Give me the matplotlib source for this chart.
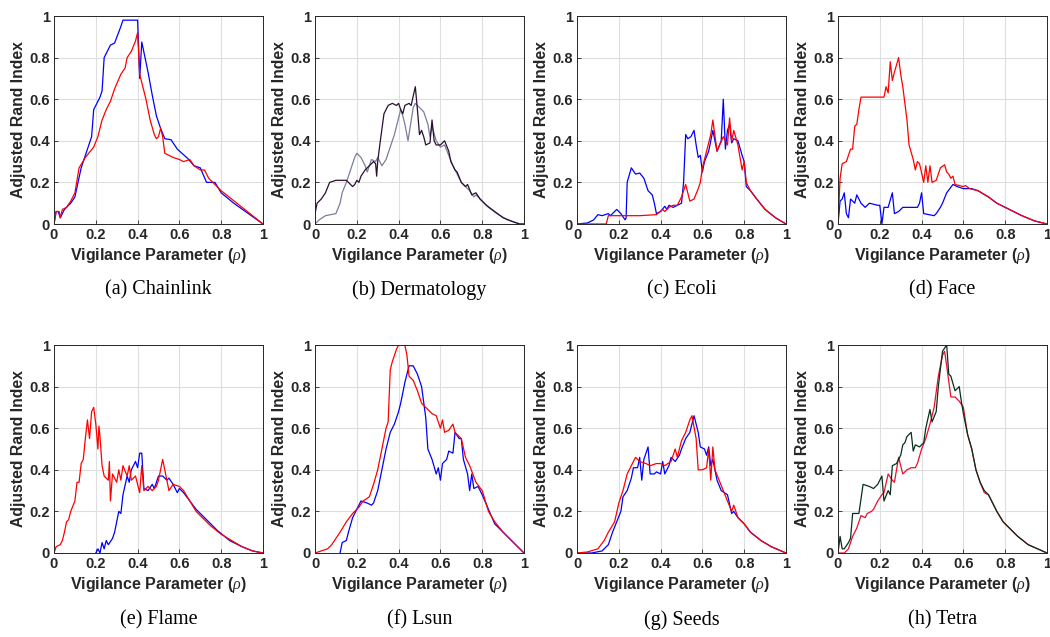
import numpy as np
import matplotlib.pyplot as plt

# ---- data (x = vigilance, y = ARI) ----
chain_bx = [0, 0.01, 0.02, 0.03, 0.05, 0.08, 0.1, 0.13, 0.15, 0.18, 0.19, 0.22, 0.23, 0.24, 0.27, 0.29, 0.32, 0.33, 0.4,
            0.41, 0.42, 0.45, 0.47, 0.49, 0.51, 0.53, 0.56, 0.59, 0.64, 0.67, 0.7, 0.73, 0.77, 0.8, 0.86, 0.93, 1.0]
chain_by = [0, 0.06, 0.06, 0.03, 0.07, 0.1, 0.13, 0.27, 0.33, 0.42, 0.55, 0.61, 0.64, 0.8, 0.86, 0.87, 0.95, 0.98, 0.98,
            0.70, 0.875, 0.73, 0.62, 0.52, 0.46, 0.41, 0.405, 0.36, 0.315, 0.28, 0.27, 0.2, 0.2, 0.15, 0.1, 0.05, 0]
chain_rx = [0, 0.01, 0.025, 0.03, 0.04, 0.06, 0.08, 0.1, 0.12, 0.15, 0.19, 0.21, 0.23, 0.25, 0.27, 0.29, 0.32, 0.34, 0.35,
            0.37, 0.39, 0.4, 0.41, 0.42, 0.44, 0.46, 0.48, 0.49, 0.5, 0.51, 0.52, 0.53, 0.55, 0.57, 0.6, 0.62, 0.65,
            0.67, 0.7, 0.72, 0.74, 0.76, 0.8, 0.85, 0.9, 0.95, 1.0]
chain_ry = [0, 0.06, 0.06, 0.03, 0.07, 0.08, 0.11, 0.15, 0.27, 0.32, 0.37, 0.42, 0.5, 0.55, 0.59, 0.65, 0.72, 0.75, 0.8,
            0.83, 0.88, 0.92, 0.72, 0.68, 0.6, 0.5, 0.43, 0.41, 0.42, 0.46, 0.42, 0.34, 0.33, 0.32, 0.31, 0.3, 0.31,
            0.28, 0.26, 0.26, 0.22, 0.2, 0.16, 0.12, 0.08, 0.04, 0]

derm_dx = [0, 0.01, 0.03, 0.05, 0.07, 0.1, 0.15, 0.16, 0.18, 0.19, 0.2, 0.21, 0.22, 0.24, 0.26, 0.28, 0.29, 0.295, 0.3,
           0.31, 0.33, 0.35, 0.37, 0.39, 0.4, 0.41, 0.42, 0.43, 0.45, 0.46, 0.48, 0.49, 0.5, 0.51, 0.52, 0.53, 0.55,
           0.56, 0.57, 0.58, 0.6, 0.62, 0.64, 0.65, 0.67, 0.68, 0.7, 0.72, 0.73, 0.75, 0.77, 0.79, 0.82, 0.86, 0.9,
           0.95, 0.98, 1.0]
derm_dy = [0.05, 0.1, 0.12, 0.15, 0.2, 0.21, 0.21, 0.2, 0.18, 0.19, 0.21, 0.2, 0.23, 0.26, 0.28, 0.3, 0.29, 0.23, 0.3,
           0.38, 0.53, 0.57, 0.58, 0.57, 0.58, 0.55, 0.53, 0.57, 0.58, 0.57, 0.66, 0.55, 0.43, 0.45, 0.42, 0.38, 0.39,
           0.5, 0.4, 0.38, 0.38, 0.4, 0.35, 0.3, 0.26, 0.25, 0.2, 0.18, 0.19, 0.14, 0.15, 0.12, 0.09, 0.06, 0.03,
           0.01, 0, 0]
derm_gx = [0, 0.02, 0.05, 0.1, 0.12, 0.13, 0.15, 0.17, 0.19, 0.2, 0.22, 0.24, 0.25, 0.27, 0.29, 0.3, 0.32, 0.34, 0.36,
           0.38, 0.39, 0.41, 0.42, 0.43, 0.445, 0.47, 0.48, 0.5, 0.52, 0.54, 0.55, 0.56, 0.58, 0.6, 0.62, 0.64, 0.66,
           0.68, 0.7, 0.72, 0.74, 0.76, 0.77, 0.8, 0.83, 0.87, 0.92, 0.98, 1.0]
derm_gy = [0, 0.02, 0.04, 0.05, 0.1, 0.15, 0.2, 0.26, 0.32, 0.34, 0.32, 0.28, 0.25, 0.31, 0.3, 0.32, 0.28, 0.31, 0.37,
           0.43, 0.47, 0.55, 0.52, 0.48, 0.4, 0.56, 0.58, 0.56, 0.54, 0.48, 0.42, 0.47, 0.4, 0.37, 0.38, 0.33, 0.28,
           0.24, 0.2, 0.18, 0.16, 0.13, 0.14, 0.11, 0.08, 0.05, 0.02, 0, 0]

ecoli_bx = [0, 0.05, 0.08, 0.1, 0.12, 0.15, 0.16, 0.19, 0.21, 0.23, 0.235, 0.24, 0.26, 0.28, 0.3, 0.32, 0.34, 0.36, 0.37,
            0.38, 0.4, 0.42, 0.43, 0.44, 0.46, 0.48, 0.5, 0.51, 0.52, 0.53, 0.545, 0.56, 0.57, 0.58, 0.59, 0.6, 0.61,
            0.63, 0.65, 0.67, 0.69, 0.7, 0.71, 0.72, 0.73, 0.74, 0.75, 0.77, 0.79, 0.8, 0.81, 0.83, 0.86, 0.9, 0.95, 1.0]
ecoli_by = [0, 0.005, 0.02, 0.045, 0.04, 0.05, 0.04, 0.07, 0.05, 0.02, 0.03, 0.2, 0.27, 0.24, 0.245, 0.22, 0.16, 0.14,
            0.1, 0.05, 0.06, 0.085, 0.07, 0.09, 0.08, 0.09, 0.1, 0.2, 0.43, 0.41, 0.42, 0.45, 0.38, 0.32, 0.33, 0.25,
            0.3, 0.35, 0.45, 0.35, 0.4, 0.6, 0.36, 0.45, 0.48, 0.39, 0.41, 0.4, 0.33, 0.3, 0.18, 0.16, 0.12, 0.07,
            0.03, 0]
ecoli_rx = [0, 0.14, 0.15, 0.3, 0.38, 0.41, 0.42, 0.44, 0.46, 0.48, 0.5, 0.52, 0.53, 0.54, 0.56, 0.58, 0.59, 0.6, 0.62,
            0.64, 0.65, 0.67, 0.7, 0.72, 0.73, 0.74, 0.75, 0.77, 0.79, 0.8, 0.81, 0.83, 0.86, 0.9, 0.95, 1.0]
ecoli_ry = [0, 0, 0.04, 0.04, 0.045, 0.07, 0.06, 0.08, 0.09, 0.09, 0.13, 0.19, 0.15, 0.11, 0.12, 0.17, 0.2, 0.27, 0.35,
            0.43, 0.5, 0.35, 0.42, 0.38, 0.51, 0.4, 0.45, 0.38, 0.26, 0.3, 0.2, 0.16, 0.12, 0.07, 0.03, 0]

face_rx = [0, 0.01, 0.02, 0.04, 0.06, 0.07, 0.08, 0.09, 0.1, 0.11, 0.22, 0.23, 0.24, 0.25, 0.26, 0.27, 0.29, 0.3, 0.31,
           0.33, 0.34, 0.36, 0.37, 0.38, 0.39, 0.41, 0.42, 0.43, 0.44, 0.45, 0.47, 0.49, 0.51, 0.52, 0.53, 0.54, 0.55,
           0.56, 0.6, 0.61, 0.63, 0.67, 0.72, 0.76, 0.82, 0.88, 0.94, 1.0]
face_ry = [0, 0.22, 0.29, 0.3, 0.36, 0.36, 0.47, 0.48, 0.55, 0.61, 0.61, 0.66, 0.63, 0.78, 0.69, 0.73, 0.8, 0.72, 0.66,
           0.5, 0.38, 0.31, 0.26, 0.3, 0.29, 0.2, 0.28, 0.2, 0.28, 0.2, 0.21, 0.27, 0.285, 0.25, 0.24, 0.22, 0.23,
           0.19, 0.18, 0.185, 0.17, 0.16, 0.13, 0.1, 0.07, 0.04, 0.015, 0]
face_bx = [0, 0.01, 0.02, 0.03, 0.04, 0.05, 0.06, 0.08, 0.09, 0.11, 0.13, 0.15, 0.19, 0.2, 0.21, 0.22, 0.24, 0.26, 0.27,
           0.29, 0.31, 0.38, 0.39, 0.4, 0.41, 0.46, 0.47, 0.49, 0.5, 0.52, 0.55, 0.57, 0.6, 0.64, 0.67, 0.72, 0.76,
           0.82, 0.88, 0.94, 1.0]
face_by = [0, 0.11, 0.12, 0.15, 0.05, 0.03, 0.12, 0.1, 0.14, 0.1, 0.08, 0.1, 0.09, 0.09, 0.0, 0.08, 0.08, 0.15, 0.05,
           0.06, 0.08, 0.08, 0.1, 0.15, 0.05, 0.04, 0.05, 0.08, 0.1, 0.15, 0.19, 0.18, 0.17, 0.17, 0.16, 0.13, 0.1,
           0.07, 0.04, 0.015, 0]

flame_rx = [0, 0.01, 0.03, 0.04, 0.05, 0.06, 0.07, 0.08, 0.1, 0.11, 0.12, 0.13, 0.14, 0.15, 0.16, 0.17, 0.18, 0.19, 0.2,
            0.21, 0.215, 0.22, 0.23, 0.24, 0.26, 0.265, 0.27, 0.28, 0.3, 0.31, 0.32, 0.33, 0.35, 0.36, 0.37, 0.39,
            0.41, 0.42, 0.43, 0.45, 0.47, 0.49, 0.5, 0.52, 0.53, 0.55, 0.57, 0.6, 0.62, 0.65, 0.68, 0.7, 0.75, 0.8,
            0.85, 0.9, 0.95, 1.0]
flame_ry = [0, 0.03, 0.04, 0.06, 0.1, 0.15, 0.16, 0.2, 0.25, 0.34, 0.34, 0.43, 0.45, 0.55, 0.64, 0.55, 0.68, 0.7, 0.62,
            0.5, 0.61, 0.56, 0.42, 0.37, 0.35, 0.44, 0.25, 0.38, 0.34, 0.4, 0.35, 0.42, 0.37, 0.42, 0.35, 0.37, 0.29,
            0.42, 0.3, 0.32, 0.3, 0.32, 0.35, 0.45, 0.4, 0.3, 0.33, 0.32, 0.3, 0.25, 0.2, 0.18, 0.13, 0.09, 0.06,
            0.03, 0.01, 0]
flame_bx = [0.2, 0.21, 0.22, 0.23, 0.24, 0.25, 0.26, 0.28, 0.29, 0.3, 0.31, 0.32, 0.33, 0.35, 0.36, 0.37, 0.38, 0.39,
            0.4, 0.41, 0.42, 0.43, 0.45, 0.47, 0.48, 0.5, 0.52, 0.54, 0.55, 0.57, 0.59, 0.6, 0.62, 0.65, 0.68, 0.71,
            0.75, 0.78, 0.84, 0.9, 0.95, 1.0]
flame_by = [0, 0.02, 0.0, 0.05, 0.02, 0.06, 0.04, 0.07, 0.1, 0.15, 0.2, 0.19, 0.28, 0.37, 0.34, 0.4, 0.42, 0.44, 0.41,
            0.48, 0.48, 0.31, 0.3, 0.33, 0.31, 0.37, 0.37, 0.35, 0.36, 0.33, 0.29, 0.31, 0.29, 0.25, 0.21, 0.18, 0.14,
            0.11, 0.06, 0.03, 0.01, 0]

lsun_rx = [0, 0.03, 0.06, 0.08, 0.1, 0.12, 0.15, 0.18, 0.21, 0.23, 0.26, 0.28, 0.3, 0.32, 0.34, 0.35, 0.36, 0.37, 0.39,
           0.4, 0.43, 0.44, 0.45, 0.47, 0.49, 0.51, 0.53, 0.56, 0.58, 0.6, 0.61, 0.62, 0.64, 0.66, 0.67, 0.7, 0.72,
           0.74, 0.77, 0.8, 0.83, 0.86, 0.9, 0.95, 1.0]
lsun_ry = [0, 0.01, 0.02, 0.04, 0.07, 0.1, 0.15, 0.19, 0.22, 0.25, 0.27, 0.33, 0.4, 0.5, 0.6, 0.63, 0.88, 0.92, 0.98,
           1.0, 1.0, 0.95, 0.85, 0.83, 0.78, 0.72, 0.7, 0.67, 0.66, 0.6, 0.64, 0.58, 0.59, 0.62, 0.58, 0.55, 0.46,
           0.42, 0.34, 0.3, 0.2, 0.15, 0.1, 0.05, 0]
lsun_bx = [0.12, 0.13, 0.15, 0.16, 0.18, 0.2, 0.22, 0.25, 0.27, 0.28, 0.3, 0.32, 0.34, 0.36, 0.38, 0.4, 0.41, 0.43,
           0.45, 0.47, 0.49, 0.51, 0.53, 0.54, 0.56, 0.58, 0.59, 0.6, 0.61, 0.63, 0.64, 0.66, 0.67, 0.69, 0.7, 0.71,
           0.73, 0.74, 0.75, 0.76, 0.78, 0.8, 0.83, 0.86, 0.9, 0.95, 1.0]
lsun_by = [0, 0.05, 0.06, 0.1, 0.17, 0.21, 0.25, 0.24, 0.23, 0.24, 0.3, 0.4, 0.5, 0.58, 0.62, 0.68, 0.72, 0.82, 0.9,
           0.9, 0.86, 0.8, 0.65, 0.5, 0.45, 0.38, 0.41, 0.35, 0.43, 0.45, 0.49, 0.48, 0.58, 0.55, 0.55, 0.45, 0.38,
           0.3, 0.38, 0.31, 0.32, 0.28, 0.21, 0.14, 0.1, 0.05, 0]

seeds_rx = [0, 0.05, 0.1, 0.13, 0.15, 0.18, 0.2, 0.22, 0.24, 0.27, 0.28, 0.3, 0.33, 0.35, 0.38, 0.4, 0.42, 0.45, 0.47,
            0.48, 0.5, 0.52, 0.54, 0.55, 0.57, 0.58, 0.6, 0.62, 0.63, 0.64, 0.65, 0.66, 0.68, 0.7, 0.72, 0.74, 0.75,
            0.77, 0.8, 0.83, 0.88, 0.93, 1.0]
seeds_ry = [0, 0.005, 0.02, 0.06, 0.1, 0.15, 0.24, 0.3, 0.38, 0.44, 0.46, 0.44, 0.43, 0.42, 0.43, 0.43, 0.42, 0.44, 0.5,
            0.46, 0.54, 0.58, 0.64, 0.66, 0.55, 0.4, 0.4, 0.41, 0.5, 0.35, 0.51, 0.4, 0.35, 0.3, 0.25, 0.2, 0.23,
            0.17, 0.14, 0.1, 0.06, 0.03, 0]
seeds_bx = [0, 0.07, 0.12, 0.15, 0.17, 0.21, 0.22, 0.24, 0.26, 0.27, 0.29, 0.3, 0.31, 0.32, 0.34, 0.35, 0.37, 0.38, 0.4,
            0.41, 0.42, 0.44, 0.45, 0.47, 0.49, 0.5, 0.52, 0.54, 0.56, 0.58, 0.59, 0.61, 0.62, 0.63, 0.64, 0.65, 0.67,
            0.69, 0.72, 0.74, 0.75, 0.77, 0.8, 0.83, 0.88, 0.93, 1.0]
seeds_by = [0, 0, 0.01, 0.04, 0.1, 0.2, 0.27, 0.3, 0.36, 0.41, 0.41, 0.46, 0.35, 0.45, 0.51, 0.38, 0.38, 0.39, 0.38,
            0.44, 0.38, 0.42, 0.46, 0.44, 0.47, 0.5, 0.55, 0.58, 0.66, 0.58, 0.51, 0.5, 0.47, 0.51, 0.42, 0.45, 0.35,
            0.3, 0.28, 0.19, 0.2, 0.17, 0.14, 0.1, 0.06, 0.03, 0]

tetra_gx = [0, 0.01, 0.02, 0.03, 0.05, 0.06, 0.07, 0.1, 0.12, 0.15, 0.17, 0.19, 0.21, 0.22, 0.24, 0.25, 0.26, 0.28,
            0.3, 0.31, 0.32, 0.33, 0.35, 0.36, 0.37, 0.39, 0.41, 0.42, 0.44, 0.45, 0.47, 0.48, 0.5, 0.52, 0.53, 0.54,
            0.56, 0.58, 0.59, 0.6, 0.62, 0.64, 0.66, 0.68, 0.7, 0.72, 0.74, 0.76, 0.79, 0.82, 0.86, 0.91, 1.0]
tetra_gy = [0, 0.08, 0.02, 0.02, 0.05, 0.07, 0.19, 0.19, 0.33, 0.32, 0.31, 0.33, 0.37, 0.25, 0.3, 0.28, 0.42, 0.43,
            0.47, 0.52, 0.53, 0.56, 0.58, 0.49, 0.52, 0.51, 0.53, 0.6, 0.69, 0.63, 0.68, 0.8, 0.97, 1.0, 0.86, 0.85,
            0.78, 0.8, 0.73, 0.67, 0.57, 0.5, 0.4, 0.34, 0.3, 0.28, 0.24, 0.2, 0.15, 0.12, 0.08, 0.04, 0]
tetra_rx = [0, 0.03, 0.05, 0.07, 0.09, 0.11, 0.13, 0.14, 0.16, 0.17, 0.19, 0.21, 0.22, 0.24, 0.26, 0.27, 0.29, 0.31,
            0.33, 0.35, 0.37, 0.38, 0.4, 0.42, 0.44, 0.46, 0.48, 0.5, 0.51, 0.52, 0.54, 0.56, 0.58, 0.6, 0.62, 0.64,
            0.66, 0.68, 0.7, 0.72, 0.74, 0.76, 0.79, 0.82, 0.86, 0.91, 1.0]
tetra_ry = [0, 0, 0.02, 0.08, 0.12, 0.18, 0.17, 0.19, 0.2, 0.21, 0.25, 0.28, 0.29, 0.38, 0.35, 0.34, 0.46, 0.38, 0.4,
            0.41, 0.41, 0.43, 0.5, 0.55, 0.62, 0.7, 0.85, 0.95, 0.97, 0.9, 0.75, 0.75, 0.73, 0.7, 0.57, 0.5, 0.4,
            0.34, 0.29, 0.28, 0.24, 0.2, 0.15, 0.12, 0.08, 0.04, 0]

captions = ['(a) Chainlink', '(b) Dermatology', '(c) Ecoli', '(d) Face',
            '(e) Flame', '(f) Lsun', '(g) Seeds', '(h) Tetra']

BLUE = '#0000ff'
RED = '#ff0000'

panels = [
    [(chain_bx, chain_by, BLUE), (chain_rx, chain_ry, RED)],
    [(derm_gx, derm_gy, '#7d7d9c'), (derm_dx, derm_dy, '#2a1030')],
    [(ecoli_bx, ecoli_by, BLUE), (ecoli_rx, ecoli_ry, RED)],
    [(face_bx, face_by, BLUE), (face_rx, face_ry, RED)],
    [(flame_bx, flame_by, BLUE), (flame_rx, flame_ry, RED)],
    [(lsun_bx, lsun_by, BLUE), (lsun_rx, lsun_ry, RED)],
    [(seeds_bx, seeds_by, BLUE), (seeds_rx, seeds_ry, RED)],
    [(tetra_rx, tetra_ry, '#e8102e'), (tetra_gx, tetra_gy, '#06301c')],
]

plt.rcParams['font.family'] = ['Liberation Sans', 'DejaVu Sans']
plt.rcParams['mathtext.fontset'] = 'custom'
plt.rcParams['mathtext.it'] = 'Liberation Serif:italic'

fig = plt.figure(figsize=(10.5, 6.37), dpi=100)

lefts = [54, 315, 577, 838]
bottoms = [224, 553]
W, H = 209, 208

for i, lines in enumerate(panels):
    r, c = divmod(i, 4)
    x0 = lefts[c] / 1050
    y0 = 1 - bottoms[r] / 637
    ax = fig.add_axes([x0, y0, W / 1050, H / 637])
    for xs, ys, col in lines:
        ax.plot(xs, ys, color=col, lw=0.9)
    ax.set_xlim(0, 1)
    ax.set_ylim(0, 1)
    ticks = [0, 0.2, 0.4, 0.6, 0.8, 1]
    labels = ['0', '0.2', '0.4', '0.6', '0.8', '1']
    ax.set_xticks(ticks)
    ax.set_xticklabels(labels)
    ax.set_yticks(ticks)
    ax.set_yticklabels(labels)
    ax.tick_params(direction='in', length=3, width=0.6, colors='#262626',
                   labelsize=10.5, pad=3)
    for lbl in ax.get_xticklabels() + ax.get_yticklabels():
        lbl.set_fontweight('bold')
    ax.grid(True, color='#dedede', lw=0.8)
    ax.set_axisbelow(True)
    for s in ax.spines.values():
        s.set_color('#262626')
        s.set_linewidth(0.7)
    ax.set_xlabel(r'Vigilance Parameter ($\rho$)', fontsize=11.5,
                  fontweight='bold', color='#262626', labelpad=3)
    ax.set_ylabel('Adjusted Rand Index', fontsize=11.3, fontweight='bold',
                  color='#262626', labelpad=2)
    cy = 1 - (290 if r == 0 else 620) / 637
    fig.text(x0 + W / 2100, cy, captions[i], ha='center', va='center',
             fontsize=14.5, family='Liberation Serif', color='black')

fig.savefig('out.png', dpi=100)
